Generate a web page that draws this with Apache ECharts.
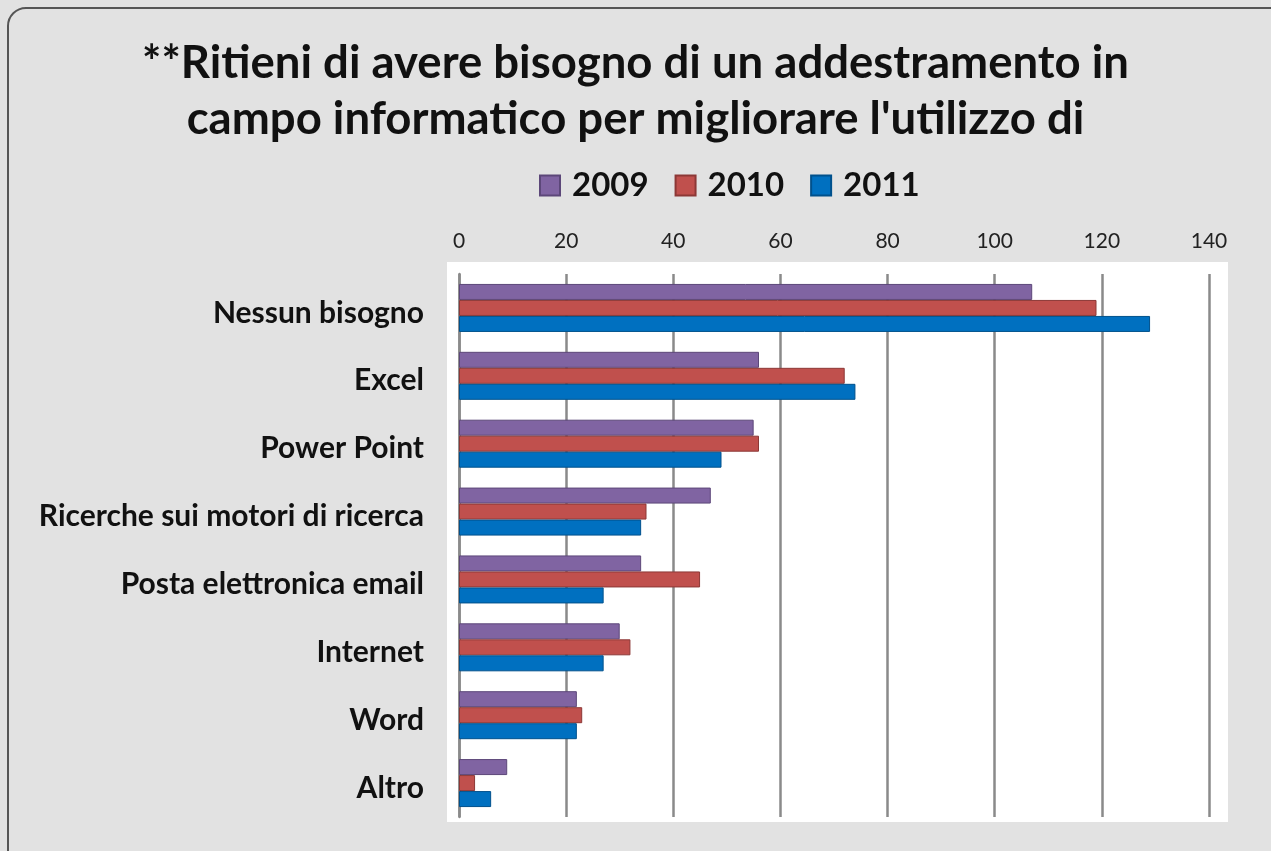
<!DOCTYPE html>
<html>
<head>
<meta charset="utf-8">
<script src="https://cdn.jsdelivr.net/npm/echarts@6/dist/echarts.min.js"></script>
<style>html,body{margin:0;padding:0;background:#e2e2e2;}#c{width:1271px;height:851px;}</style>
</head>
<body>
<div id="c"></div>
<script>
const categories = ['Nessun bisogno','Excel','Power Point','Ricerche sui motori di ricerca','Posta elettronica email','Internet','Word','Altro'];
const seriesNames = ['2009','2010','2011'];
const values2009 = [107, 56, 55, 47, 34, 30, 22, 9];
const values2010 = [119, 72, 56, 35, 45, 32, 23, 3];
const values2011 = [129, 74, 49, 34, 27, 27, 22, 6];
const xTicks = [0, 20, 40, 60, 80, 100, 120, 140];
const titleLines = ["**Ritieni di avere bisogno di un addestramento in", "campo informatico per migliorare l'utilizzo di"];

const colors = ['#8064A2', '#C0504D', '#0070C0'];
const borders = ['#5c4779', '#8c3836', '#00518c'];
const chart = echarts.init(document.getElementById('c'));
const data = [values2009, values2010, values2011];
chart.setOption({
  backgroundColor: '#e2e2e2',
  animation: false,
  title: {
    text: titleLines.join('\n'),
    left: 'center', top: 30,
    textStyle: { fontFamily: 'Lato', fontWeight: 'bold', fontSize: 45.5, color: '#111', lineHeight: 56 }
  },
  legend: {
    data: seriesNames, top: 164, left: 534,
    itemWidth: 20, itemHeight: 20, itemGap: 26,
    textStyle: { fontFamily: 'Lato', fontWeight: 'bold', fontSize: 33, color: '#111', padding: [0, 0, 0, 7] },
    icon: 'rect'
  },
  graphic: [
    { type: 'rect', z: -10, shape: { x: 8, y: 8, width: 1300, height: 880, r: 18 },
      style: { fill: 'none', stroke: '#555', lineWidth: 2 } },
    { type: 'rect', z: -5, shape: { x: 447, y: 262, width: 781, height: 560 },
      style: { fill: '#ffffff' } }
  ],
  grid: { left: 459, right: 62, top: 274, bottom: 34 },
  xAxis: {
    type: 'value', position: 'top', min: xTicks[0], max: xTicks[xTicks.length-1], interval: 20,
    axisLine: { show: false }, axisTick: { show: false },
    axisLabel: { fontFamily: 'Lato', fontSize: 21, color: '#222', margin: 22 },
    splitLine: { show: true, lineStyle: { color: '#8a8a8a', width: 2.5 } }
  },
  yAxis: {
    type: 'category', data: categories, inverse: true,
    axisLine: { show: true, lineStyle: { color: '#8a8a8a', width: 2.5 } },
    axisTick: { show: false },
    axisLabel: {
      margin: 35,
      formatter: v => '{a|' + v + '}',
      rich: { a: { fontFamily: 'Lato', fontWeight: 'bold', fontSize: 30, color: '#111', padding: [10, 0, 0, 0] } }
    }
  },
  series: seriesNames.map((n, i) => ({
    name: n, type: 'bar', data: data[i], barWidth: 16, barGap: '0%',
    itemStyle: { color: colors[i], borderColor: borders[i], borderWidth: 1 }
  }))
});
</script>
</body>
</html>
